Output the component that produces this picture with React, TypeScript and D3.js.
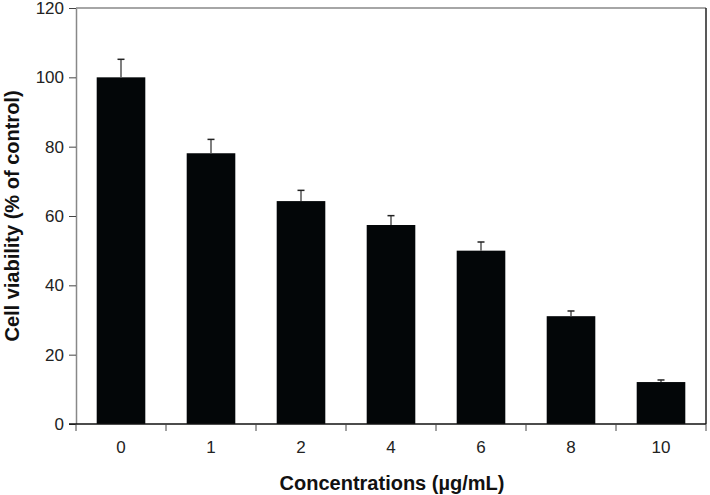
import React, { useEffect, useRef } from "react";
import * as d3 from "d3";

const categories = ["0", "1", "2", "4", "6", "8", "10"];
const viability = [100, 78.1, 64.3, 57.4, 50, 31.1, 12.1];
const errors = [5.2, 4, 3.1, 2.7, 2.5, 1.5, 0.6];
const yTicks = [0, 20, 40, 60, 80, 100, 120];

const App = () => {
  const ref = useRef<SVGSVGElement>(null);

  useEffect(() => {
    const svg = d3.select(ref.current);
    svg.selectAll("*").remove();

    const margin = { top: 8, right: 4, bottom: 71, left: 76 };
    const width = 710 - margin.left - margin.right;
    const height = 495 - margin.top - margin.bottom;
    const font = "'Liberation Sans', Arial, sans-serif";

    const g = svg.append("g").attr("transform", `translate(${margin.left},${margin.top})`);

    const x = d3.scaleBand().domain(categories).range([0, width]).paddingInner(0).paddingOuter(0);
    const y = d3.scaleLinear().domain([0, 120]).range([height, 0]);
    const bw = x.bandwidth() * 0.54;

    // frame
    g.append("line").attr("x1", 0).attr("x2", width).attr("y1", 0).attr("y2", 0).attr("stroke", "#888").attr("stroke-width", 1.5);
    g.append("line").attr("x1", width).attr("x2", width).attr("y1", 0).attr("y2", height).attr("stroke", "#222").attr("stroke-width", 1.5);

    // bars
    g.selectAll("rect.bar")
      .data(viability)
      .enter()
      .append("rect")
      .attr("x", (d, i) => x(categories[i])! + (x.bandwidth() - bw) / 2)
      .attr("y", (d) => y(d))
      .attr("width", bw)
      .attr("height", (d) => height - y(d))
      .attr("fill", "#030608");

    // error bars
    const eb = g.selectAll("g.err").data(viability).enter().append("g");
    eb.append("line")
      .attr("x1", (d, i) => x(categories[i])! + x.bandwidth() / 2)
      .attr("x2", (d, i) => x(categories[i])! + x.bandwidth() / 2)
      .attr("y1", (d) => y(d))
      .attr("y2", (d, i) => y(d + errors[i]))
      .attr("stroke", "#555")
      .attr("stroke-width", 1.5);
    eb.append("line")
      .attr("x1", (d, i) => x(categories[i])! + x.bandwidth() / 2 - 3.5)
      .attr("x2", (d, i) => x(categories[i])! + x.bandwidth() / 2 + 3.5)
      .attr("y1", (d, i) => y(d + errors[i]))
      .attr("y2", (d, i) => y(d + errors[i]))
      .attr("stroke", "#222")
      .attr("stroke-width", 1.5);

    // y axis
    const ya = g.append("g").call(d3.axisLeft(y).tickValues(yTicks).tickSize(7).tickPadding(5).tickSizeOuter(0));
    ya.select(".domain").attr("stroke", "#888").attr("stroke-width", 1.5);
    ya.selectAll(".tick line").attr("stroke", "#444");
    ya.selectAll("text").attr("font-size", 17).attr("font-family", font).attr("fill", "#222");

    // x axis with ticks at band edges
    const xa = g.append("g").attr("transform", `translate(0,${height})`);
    xa.append("line").attr("x1", -7).attr("x2", width).attr("stroke", "#111").attr("stroke-width", 1.5);
    const edges = categories.map((c) => x(c)!).concat([width]);
    xa.selectAll("line.tk")
      .data(edges)
      .enter()
      .append("line")
      .attr("x1", (d) => d)
      .attr("x2", (d) => d)
      .attr("y1", 0)
      .attr("y2", 7)
      .attr("stroke", "#444");
    xa.selectAll("text")
      .data(categories)
      .enter()
      .append("text")
      .attr("x", (d) => x(d)! + x.bandwidth() / 2)
      .attr("y", 29)
      .attr("text-anchor", "middle")
      .attr("font-size", 17)
      .attr("font-family", font)
      .attr("fill", "#222")
      .text((d) => d);

    svg.append("text")
      .attr("x", margin.left + width / 2 + 1)
      .attr("y", 490)
      .attr("text-anchor", "middle")
      .attr("font-size", 20)
      .attr("font-weight", "bold")
      .attr("font-family", font)
      .attr("fill", "#111")
      .text("Concentrations (µg/mL)");

    svg.append("text")
      .attr("transform", `translate(19,${margin.top + height / 2}) rotate(-90)`)
      .attr("text-anchor", "middle")
      .attr("font-size", 20)
      .attr("font-weight", "bold")
      .attr("font-family", font)
      .attr("fill", "#111")
      .text("Cell viability (% of control)");
  }, []);

  return (
    <svg
      ref={ref}
      width={710}
      height={495}
      style={{ position: "absolute", left: 0, top: 0, background: "#fff" }}
    />
  );
};

export default App;
